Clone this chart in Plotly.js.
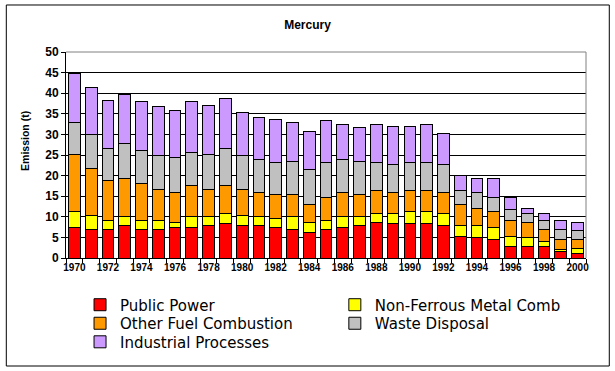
<!DOCTYPE html>
<html>
<head>
<meta charset="utf-8">
<script src="https://cdn.plot.ly/plotly-3.0.1.min.js"></script>
<style>html,body{margin:0;padding:0;background:#fff;}#chart{width:615px;height:371px;}</style>
</head>
<body>
<div id="chart"></div>
<script>
var years = ['1970','1971','1972','1973','1974','1975','1976','1977','1978','1979','1980','1981','1982','1983','1984','1985','1986','1987','1988','1989','1990','1991','1992','1993','1994','1995','1996','1997','1998','1999','2000'];
var tickLabels = ['1970','','1972','','1974','','1976','','1978','','1980','','1982','','1984','','1986','','1988','','1990','','1992','','1994','','1996','','1998','','2000'];

var publicPower = [7.5,7.0,7.0,7.8,7.0,7.0,7.3,7.5,7.8,8.3,8.0,7.8,7.3,7.0,6.1,7.0,7.3,7.8,8.5,8.3,8.3,8.3,8.0,5.1,4.9,4.4,2.9,2.9,2.7,1.7,1.2];
var nonFerrous = [3.9,3.4,2.0,2.2,2.2,2.0,1.2,2.5,2.2,2.4,2.4,2.2,2.4,3.0,2.4,2.2,2.7,2.2,2.4,2.6,2.9,2.9,2.9,2.9,2.9,2.9,2.2,2.0,1.4,0.3,1.0];
var otherFuel = [13.8,11.4,9.7,9.4,9.0,7.7,7.3,7.5,6.7,7.0,6.3,5.8,5.6,5.5,4.6,5.6,5.8,5.5,5.4,5.1,5.1,5.1,4.9,4.9,4.3,3.9,3.9,3.6,2.9,2.6,2.2];
var wasteDisposal = [7.8,8.1,7.8,8.3,8.0,8.1,8.5,8.2,8.5,8.8,8.1,8.2,8.0,8.0,8.3,8.3,8.0,8.0,7.0,6.8,7.0,7.0,6.8,3.6,3.7,3.4,2.7,2.2,2.2,2.4,2.2];
var industrial = [11.9,11.6,11.8,11.9,11.7,11.9,11.6,12.2,11.7,12.3,10.4,10.0,10.4,9.3,9.2,10.2,8.7,8.1,9.0,9.0,8.5,9.2,7.7,3.6,3.6,4.6,2.9,1.4,1.7,2.0,1.9];

var seriesNames = ['Public Power','Non-Ferrous Metal Comb','Other Fuel Combustion','Waste Disposal','Industrial Processes'];
var seriesValues = [publicPower, nonFerrous, otherFuel, wasteDisposal, industrial];
var seriesColors = ['#FF0000','#FFFF00','#FF9900','#C0C0C0','#CC99FF'];

// legend placement (paper coords): one legend per entry, two columns, three rows
var legendIds = ['legend','legend2','legend3','legend4','legend5'];
var legendX = [0.027, 0.517, 0.027, 0.517, 0.027];
var legendY = [-0.228, -0.228, -0.318, -0.318, -0.408];

var traces = seriesNames.map(function(n, i){
  return {
    type: 'bar', name: n, x: years, y: seriesValues[i], legend: legendIds[i],
    marker: {color: seriesColors[i], line: {color: '#000', width: 1}},
    hoverinfo: 'skip'
  };
});

var layout = {
  width: 615, height: 371,
  margin: {l: 66, r: 29, t: 52, b: 113},
  paper_bgcolor: '#fff', plot_bgcolor: '#fff',
  barmode: 'stack', bargap: 0.3,
  showlegend: true,
  font: {family: 'Liberation Sans, Arial, sans-serif', color: '#000'},
  title: {text: '<b>Mercury</b>', x: 0.5, xanchor: 'center', y: 0.932, yanchor: 'middle', font: {size: 12, color: '#000'}},
  xaxis: {
    type: 'category', tickmode: 'array', tickvals: years, ticktext: tickLabels,
    tickson: 'boundaries', ticks: 'outside', ticklen: 4, tickcolor: '#000', tickwidth: 1,
    showline: true, linecolor: '#000', linewidth: 1, showgrid: false, zeroline: false,
    tickfont: {size: 10, family: 'Liberation Sans, Arial, sans-serif', weight: 'bold'}, tickangle: 0,
    fixedrange: true
  },
  yaxis: {
    range: [0, 50], dtick: 5, tick0: 0, ticks: 'outside', ticklen: 4, tickcolor: '#000',
    showline: true, linecolor: '#000', linewidth: 1, showgrid: true, gridcolor: '#000', gridwidth: 1,
    zeroline: false, tickfont: {size: 12, weight: 'bold'}, fixedrange: true
  },
  annotations: [{
    text: '<b>Emission (t)</b>', xref: 'paper', yref: 'paper', x: -0.079, y: 0.568,
    xanchor: 'center', yanchor: 'middle', textangle: -90, showarrow: false,
    font: {size: 10.5, color: '#000'}
  }],
  shapes: [
    {type: 'line', xref: 'paper', yref: 'paper', x0: 0, x1: 1, y0: 1, y1: 1, line: {color: '#808080', width: 1}, layer: 'above'},
    {type: 'line', xref: 'paper', yref: 'paper', x0: 1, x1: 1, y0: 0, y1: 1, line: {color: '#808080', width: 1}, layer: 'above'},
    {type: 'rect', xref: 'paper', yref: 'paper', x0: -0.1148, x1: 1.0448, y0: -0.5243, y1: 1.2282, line: {color: '#000', width: 1}, fillcolor: 'rgba(0,0,0,0)', layer: 'below'}
  ]
};

legendIds.forEach(function(id, i){
  layout[id] = {
    orientation: 'h', x: legendX[i], xanchor: 'left', y: legendY[i], yanchor: 'middle',
    font: {family: 'DejaVu Sans, sans-serif', size: 15, color: '#000'},
    bgcolor: 'rgba(0,0,0,0)', borderwidth: 0
  };
});

Plotly.newPlot('chart', traces, layout, {displayModeBar: false, staticPlot: true});
</script>
</body>
</html>
